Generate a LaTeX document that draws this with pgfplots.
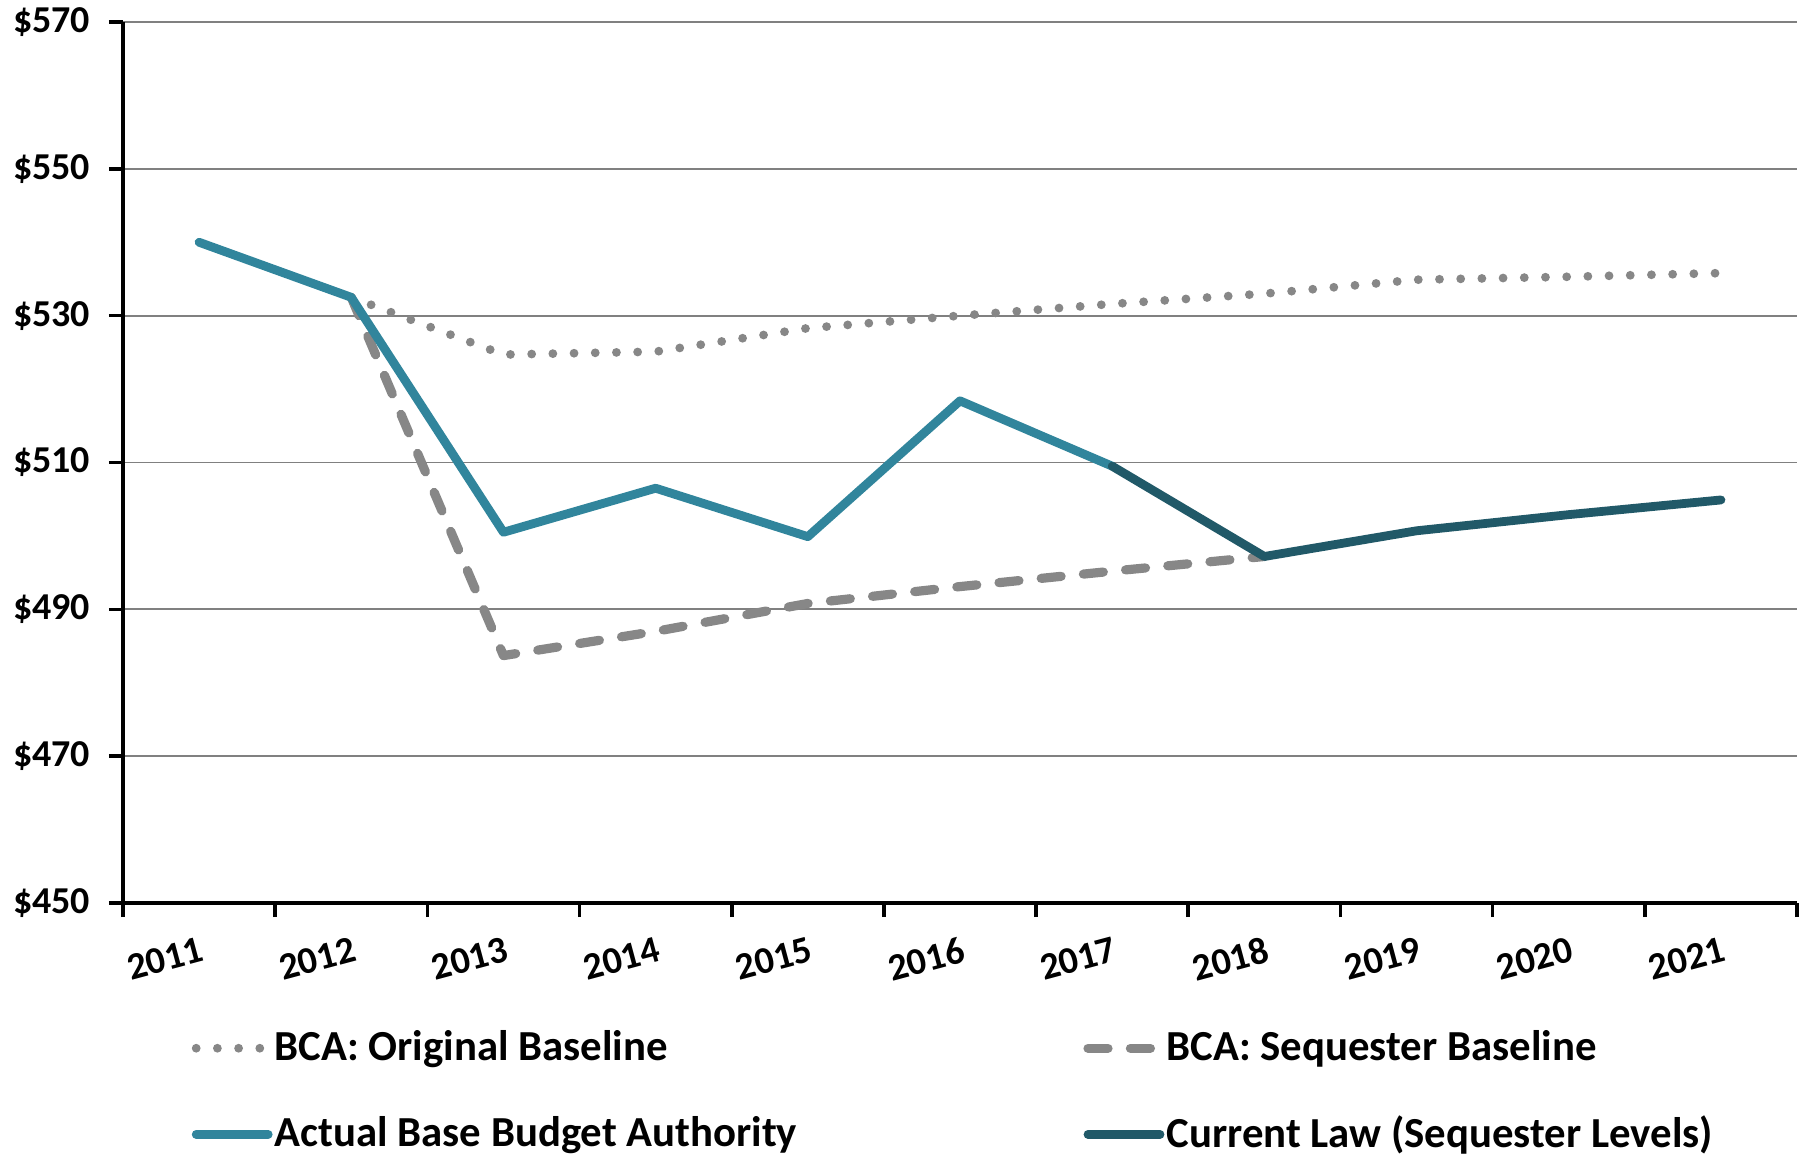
\documentclass[border=0pt]{standalone}
\usepackage{pgfplots}
\pgfplotsset{compat=1.18}
\usepackage{fontspec}
\setmainfont{Carlito}
\definecolor{teal1}{HTML}{31859C}
\definecolor{teal2}{HTML}{215968}
\definecolor{g1}{HTML}{878787}
\begin{document}
\begin{tikzpicture}
\begin{axis}[name=ax, width=418.5pt, height=220.25pt, scale only axis,
  xmin=-0.5, xmax=10.5, ymin=450, ymax=570,
  axis x line*=bottom, axis y line*=left,
  axis line style={line width=0.9pt,-},
  x axis line style={line width=1pt},
  xtick={-0.5,0.5,...,10.5},
  xticklabels={2011,2012,2013,2014,2015,2016,2017,2018,2019,2020,2021,{}},
  ytick={450,470,...,570},
  yticklabels={\$450,\$470,\$490,\$510,\$530,\$550,\$570},
  /pgf/number format/assume math mode=true,
  tick align=outside, major tick length=3.5pt,
  tick style={black, line width=0.9pt},
  ymajorgrids, grid style={color=black!50, line width=0.45pt},
  ticklabel style={font=\bfseries\fontsize{9.5}{11}\selectfont},
  yticklabel style={xshift=-1.2pt},
  xticklabel style={xshift=21.5pt, yshift=-0.5pt, rotate=15, anchor=north east},
  legend columns=2, legend cell align=left,
  legend style={draw=none, fill=none, at={(0,0)}, anchor=north west,
    xshift=14pt, yshift=-27.6pt, font=\bfseries\fontsize{10.7}{12.5}\selectfont,
    nodes={inner xsep=0.5pt},
    /tikz/every even column/.append style={column sep=0pt}, row sep=8.3pt},
  legend image code/.code={\draw[#1] (0pt,0pt) -- (18pt,0pt);},
]
\addplot[g1, line width=2.2pt, line cap=round, line join=round, dash pattern=on 0pt off 5.3pt]
  coordinates {(1,532.5)(2,524.7)(3,525.1)(4,528.3)(5,530.0)(6,531.6)(7,533.0)(8,534.9)(9,535.3)(10,535.8)};
\addlegendentry{\makebox[201.7pt][l]{BCA: Original Baseline}}
\addplot[g1, line width=2.3pt, line cap=round, line join=round, dash pattern=on 5pt off 5.6pt]
  coordinates {(1,532.5)(2,483.7)(3,487.0)(4,490.8)(5,493.1)(6,495.2)(7,497.2)};
\addlegendentry{BCA: Sequester Baseline}
\addplot[teal1, line width=2.2pt, line cap=round, line join=round]
  coordinates {(0,540.0)(1,532.5)(2,500.5)(3,506.5)(4,499.9)(5,518.4)(6,509.5)};
\addlegendentry{\makebox[201.7pt][l]{Actual Base Budget Authority}}
\addplot[teal2, line width=2.2pt, line cap=round, line join=round]
  coordinates {(6,509.5)(7,497.2)(8,500.7)(9,502.9)(10,504.9)};
\addlegendentry{Current Law (Sequester Levels)}
\end{axis}
\pgfresetboundingbox
\path[use as bounding box] ([xshift=-30.75pt,yshift=-64pt]ax.south west) rectangle ([xshift=2.25pt,yshift=5.5pt]ax.north east);
\end{tikzpicture}
\end{document}
